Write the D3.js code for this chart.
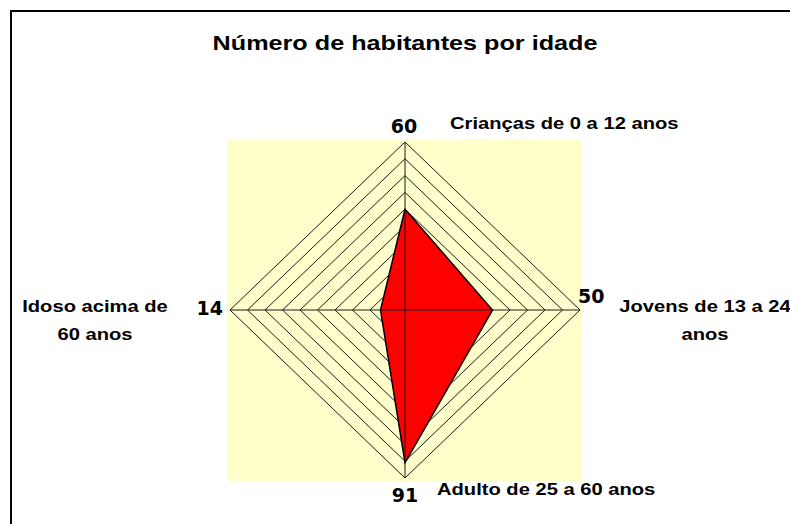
<!DOCTYPE html>
<html>
<head>
<meta charset="utf-8">
<script src="https://cdn.jsdelivr.net/npm/d3@7"></script>
<style>
  html, body { margin: 0; padding: 0; background: #fff; }
  svg { display: block; }
  .title { font-family: "Liberation Sans", Arial, sans-serif; font-weight: bold; font-size: 20px; fill: #000; }
  .cat { font-family: "Liberation Sans", Arial, sans-serif; font-weight: bold; font-size: 16px; fill: #000; }
  .val { font-family: "DejaVu Sans", Verdana, sans-serif; font-weight: bold; font-size: 19px; fill: #000; }
</style>
</head>
<body>
<svg id="chart" width="790" height="524"></svg>
<script>
// dados (sentido horário a partir do topo)
const categories = ['Crianças de 0 a 12 anos', 'Jovens de 13 a 24 anos', 'Adulto de 25 a 60 anos', 'Idoso acima de 60 anos'];
const values = [60, 50, 91, 14];
const ringTicks = [10, 20, 30, 40, 50, 60, 70, 80, 90, 100];
const maxValue = 100;

const svg = d3.select('#chart');
const cx = 405, cy = 310;
const stretch = 1.26; // o original tem o texto esticado na horizontal

// raio horizontal e vertical ligeiramente diferentes, como no original
const rx = d3.scaleLinear().domain([0, maxValue]).range([0, 175]);
const ry = d3.scaleLinear().domain([0, maxValue]).range([0, 168]);

const angles = categories.map((c, i) => i * Math.PI / 2); // 0 = topo
const pt = (v, i) => [cx + Math.sin(angles[i]) * rx(v), cy - Math.cos(angles[i]) * ry(v)];

// moldura (cortada à direita e em baixo)
svg.append('rect')
  .attr('x', 11).attr('y', 11)
  .attr('width', 900).attr('height', 700)
  .attr('fill', 'none')
  .attr('stroke', '#000')
  .attr('stroke-width', 2);

svg.append('text')
  .attr('class', 'title')
  .attr('transform', `translate(405,50) scale(${stretch},1)`)
  .attr('text-anchor', 'middle')
  .text('Número de habitantes por idade');

// área de plotagem
svg.append('rect')
  .attr('x', 227).attr('y', 139)
  .attr('width', 355).attr('height', 342)
  .attr('fill', '#ffffcc');

const line = d3.line().curve(d3.curveLinearClosed);

// anéis da grade
svg.append('g')
  .selectAll('path')
  .data(ringTicks)
  .join('path')
  .attr('d', t => line(categories.map((c, i) => pt(t, i))))
  .attr('fill', 'none')
  .attr('stroke', '#1a1a1a')
  .attr('stroke-width', 1);

// série
svg.append('path')
  .attr('d', line(values.map((v, i) => pt(v, i))))
  .attr('fill', '#ff0000')
  .attr('stroke', '#000')
  .attr('stroke-width', 1.5)
  .attr('stroke-linejoin', 'miter');

// eixos (raios)
svg.append('g')
  .selectAll('line')
  .data(categories)
  .join('line')
  .attr('x1', cx).attr('y1', cy)
  .attr('x2', (c, i) => pt(maxValue, i)[0])
  .attr('y2', (c, i) => pt(maxValue, i)[1])
  .attr('stroke', '#1a1a1a')
  .attr('stroke-width', 1);

// rótulos de valor nas pontas dos eixos
const valPos = [
  { dx: -1, dy: -9, anchor: 'middle' },
  { dx: -2, dy: -7, anchor: 'start' },
  { dx: 0, dy: 24, anchor: 'middle' },
  { dx: -7, dy: 5, anchor: 'end' }
];
svg.append('g')
  .selectAll('text')
  .data(values)
  .join('text')
  .attr('class', 'val')
  .attr('x', (v, i) => pt(maxValue, i)[0] + valPos[i].dx)
  .attr('y', (v, i) => pt(maxValue, i)[1] + valPos[i].dy)
  .attr('text-anchor', (v, i) => valPos[i].anchor)
  .text(v => v);

// rótulos de categoria
const catLayout = [
  { x: 450, y: 129, anchor: 'start', lines: [categories[0]] },
  { x: 705, y: 312, anchor: 'middle', lines: ['Jovens de 13 a 24', 'anos'] },
  { x: 437, y: 495, anchor: 'start', lines: [categories[2]] },
  { x: 95, y: 312, anchor: 'middle', lines: ['Idoso acima de', '60 anos'] }
];
const catText = svg.append('g')
  .selectAll('text')
  .data(catLayout)
  .join('text')
  .attr('class', 'cat')
  .attr('transform', d => `translate(${d.x},${d.y}) scale(${stretch},1)`)
  .attr('text-anchor', d => d.anchor);
catText.selectAll('tspan')
  .data(d => d.lines.map((l, k) => ({ l, k })))
  .join('tspan')
  .attr('x', 0)
  .attr('dy', d => d.k === 0 ? 0 : 28)
  .text(d => d.l);
</script>
</body>
</html>
